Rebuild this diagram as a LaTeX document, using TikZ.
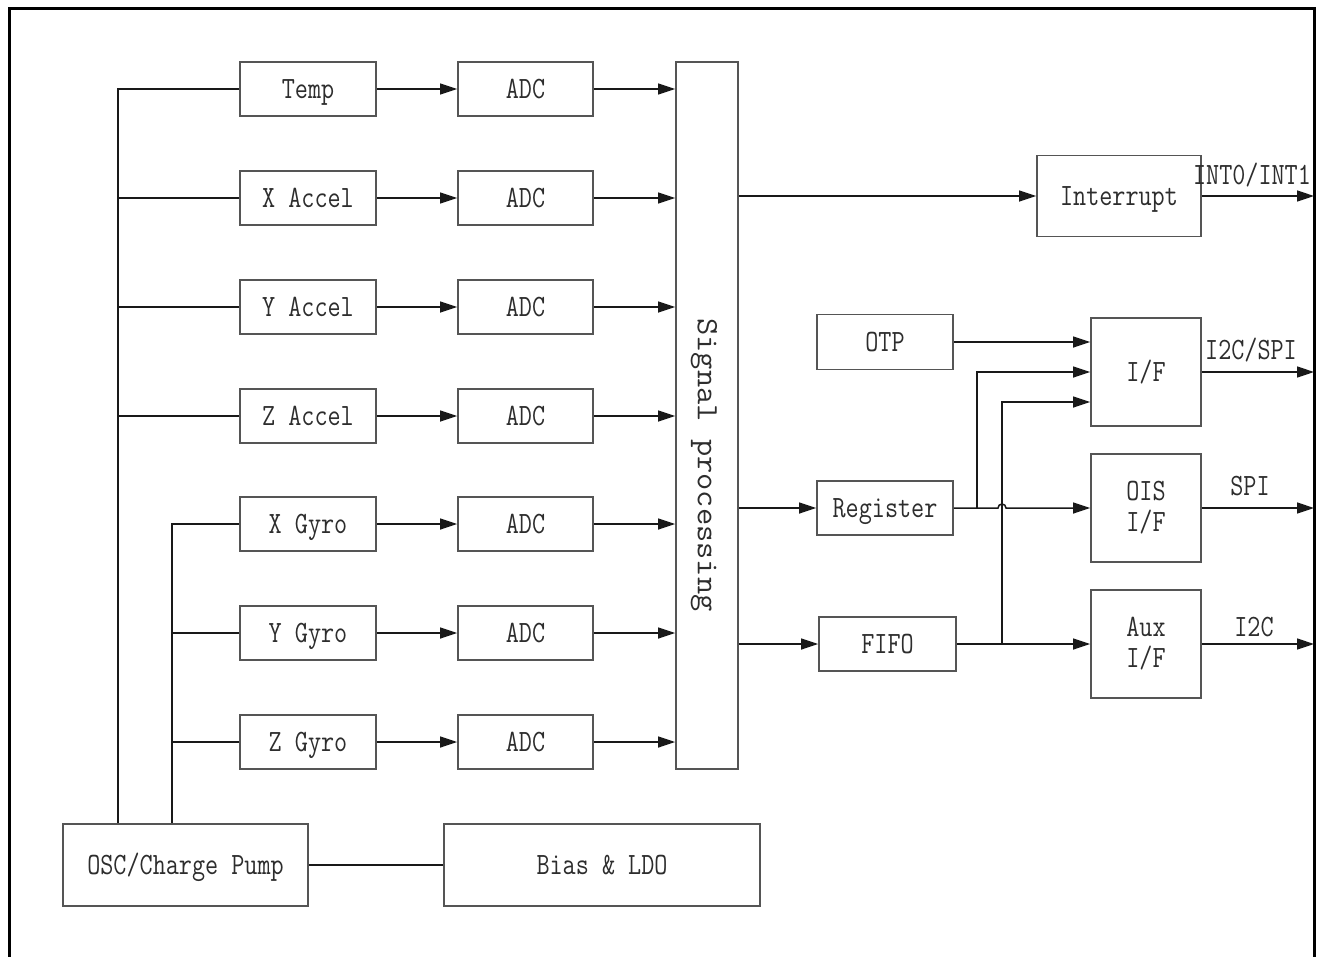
\documentclass[tikz,border=0pt]{standalone}
\usetikzlibrary{arrows.meta}
\definecolor{bxc}{RGB}{85,85,85}
\definecolor{lnc}{RGB}{25,25,25}
\definecolor{txc}{RGB}{45,45,45}
\newcommand{\sx}[1]{\scalebox{0.82}[1]{#1}}
\begin{document}
\begin{tikzpicture}[x=1pt,y=-1pt,
  bxbase/.style={draw=bxc, line width=1.8pt, fill=white, inner sep=0pt,
    font=\ttfamily\fontsize{31}{31}\selectfont, text=txc, align=center},
  bx/.style={bxbase, text height=19pt, text depth=0pt},
  ln/.style={line width=1.5pt, draw=lnc},
  ar/.style={ln, -{Triangle[length=17pt,width=11pt]}},
  lb/.style={font=\ttfamily\fontsize{31}{31}\selectfont, text=txc, anchor=base, inner sep=0pt}]
\useasboundingbox (0,0) rectangle (1319,956);
\fill[white] (0,0) rectangle (1319,956);
% outer frame
\draw[line width=3pt, line join=miter] (9,970) -- (9,8) -- (1314,8) -- (1314,970);
% sensor boxes
\node[bx, minimum width=136, minimum height=54] (temp)  at (308,89)  {\sx{Temp}};
\node[bx, minimum width=136, minimum height=54] (xacc)  at (308,198) {\sx{X Accel}};
\node[bx, minimum width=136, minimum height=54] (yacc)  at (308,307) {\sx{Y Accel}};
\node[bx, minimum width=136, minimum height=54] (zacc)  at (308,416) {\sx{Z Accel}};
\node[bx, minimum width=136, minimum height=54] (xgyro) at (308,524) {\sx{X Gyro}};
\node[bx, minimum width=136, minimum height=54] (ygyro) at (308,633) {\sx{Y Gyro}};
\node[bx, minimum width=136, minimum height=54] (zgyro) at (308,742) {\sx{Z Gyro}};
% ADCs
\node[bx, minimum width=135, minimum height=54] (adc1) at (525.5,89)  {\sx{ADC}};
\node[bx, minimum width=135, minimum height=54] (adc2) at (525.5,198) {\sx{ADC}};
\node[bx, minimum width=135, minimum height=54] (adc3) at (525.5,307) {\sx{ADC}};
\node[bx, minimum width=135, minimum height=54] (adc4) at (525.5,416) {\sx{ADC}};
\node[bx, minimum width=135, minimum height=54] (adc5) at (525.5,524) {\sx{ADC}};
\node[bx, minimum width=135, minimum height=54] (adc6) at (525.5,633) {\sx{ADC}};
\node[bx, minimum width=135, minimum height=54] (adc7) at (525.5,742) {\sx{ADC}};
% signal processing
\node[bx, minimum width=62, minimum height=707] (sp) at (707,415.5) {};
\node[font=\ttfamily\fontsize{31}{31}\selectfont, text=txc, inner sep=0pt] (sptext) at (704,465)
  {\rotatebox{-90}{\scalebox{1.08}[1]{Signal processing}}};
% bottom boxes
\node[bx, minimum width=245, minimum height=82] (osc)  at (185.5,865) {\sx{OSC/Charge Pump}};
\node[bx, minimum width=316, minimum height=82] (bias) at (602,865)   {\sx{Bias \& LDO}};
% right side
\node[bx, minimum width=164, minimum height=81]  (intr) at (1119,196)   {\sx{Interrupt}};
\node[bx, minimum width=136, minimum height=55]  (otp)  at (885,342)    {\sx{OTP}};
\node[bx, minimum width=110, minimum height=108] (ifb)  at (1146,372)   {\sx{I/F}};
\node[bx, minimum width=136, minimum height=54]  (reg)  at (885,508)    {\sx{Register}};
\node[bxbase, minimum width=110, minimum height=108] (ois)  at (1146,508) {\sx{OIS}\\\sx{I/F}};
\node[bx, minimum width=137, minimum height=54]  (fifo) at (887.5,644)  {\sx{FIFO}};
\node[bxbase, minimum width=110, minimum height=108] (aux)  at (1146,644) {\sx{Aux}\\\sx{I/F}};
% sensor -> ADC -> SP
\foreach \s/\a in {temp/adc1,xacc/adc2,yacc/adc3,zacc/adc4,xgyro/adc5,ygyro/adc6,zgyro/adc7}{
  \draw[ar] (\s.east) -- (\a.west);
  \draw[ar] (\a.east) -- (\a.east -| sp.west);
}
% supply buses
\coordinate (b1) at (118,89);
\coordinate (b2) at (172,524);
\draw[ln] (temp.west) -- (temp.west -| b1) -- (b1 |- osc.north);
\foreach \s in {xacc,yacc,zacc}{ \draw[ln] (\s.west) -- (\s.west -| b1); }
\draw[ln] (xgyro.west) -- (xgyro.west -| b2) -- (b2 |- osc.north);
\foreach \s in {ygyro,zgyro}{ \draw[ln] (\s.west) -- (\s.west -| b2); }
\draw[ln] (osc.east) -- (bias.west);
% right border reference
\coordinate (rb) at (1314,0);
% SP -> interrupt
\draw[ar] (sp.east |- intr.west) -- (intr.west);
\draw[ar] (intr.east) -- (intr.east -| rb);
\node[lb] (lint) at (1252,184) {\sx{INT0/INT1}};
% OTP -> I/F
\draw[ar] (otp.east) -- (otp.east -| ifb.west);
% SP -> register, fifo
\draw[ar] (sp.east |- reg.west) -- (reg.west);
\draw[ar] (sp.east |- fifo.west) -- (fifo.west);
% register -> I/F, OIS
\coordinate (j1) at (977,508);
\coordinate (j1t) at (977,372);
\draw[ar] (j1) -- (j1t) -- (j1t -| ifb.west);
\draw[ar] (reg.east) -- (998,508) arc[start angle=180, end angle=360, radius=4] -- (ois.west);
% fifo -> I/F, aux
\coordinate (j2) at (1002,644);
\coordinate (j2t) at (1002,402);
\draw[ar] (j2) -- (j2t) -- (j2t -| ifb.west);
\draw[ar] (fifo.east) -- (aux.west);
% outputs
\draw[ar] (ifb.east) -- (ifb.east -| rb);
\node[lb] (li2cspi) at (1251,359) {\sx{I2C/SPI}};
\draw[ar] (ois.east) -- (ois.east -| rb);
\node[lb] (lspi) at (1250,495) {\sx{SPI}};
\draw[ar] (aux.east) -- (aux.east -| rb);
\node[lb] (li2c) at (1254,636) {\sx{I2C}};
\end{tikzpicture}
\end{document}
